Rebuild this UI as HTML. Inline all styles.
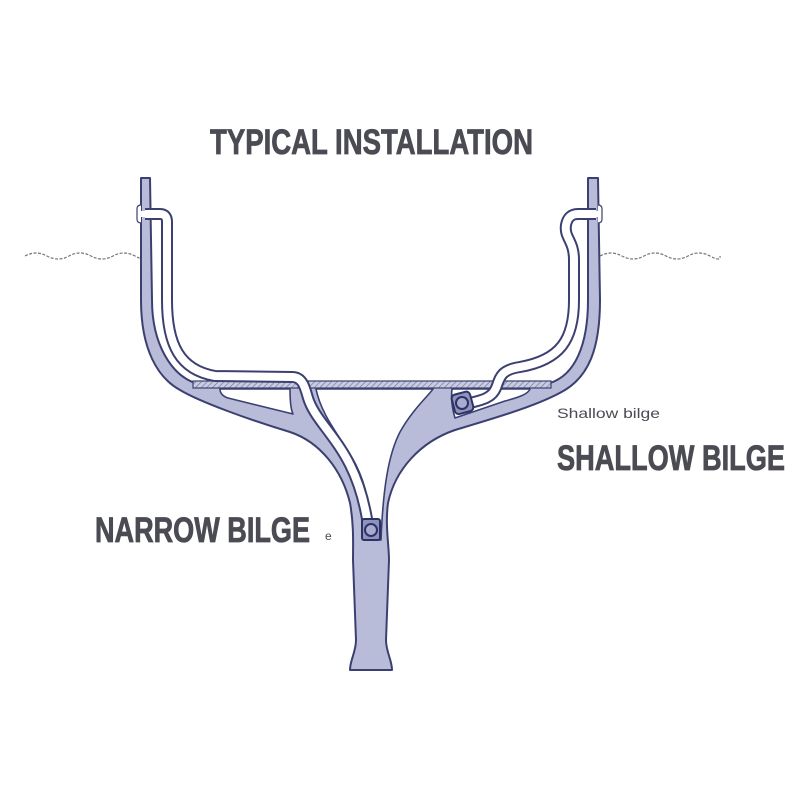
<!DOCTYPE html>
<html><head><meta charset="utf-8"><style>
html,body{margin:0;padding:0;background:#fff;width:800px;height:800px;overflow:hidden}
svg{display:block}
</style></head><body>
<svg width="800" height="800" viewBox="0 0 800 800" xmlns="http://www.w3.org/2000/svg">
<defs>
<pattern id="hatch" width="4" height="4" patternUnits="userSpaceOnUse" patternTransform="rotate(45)">
<rect width="4" height="4" fill="#c9cce0"/><line x1="0" y1="0" x2="0" y2="4" stroke="#6a6f98" stroke-width="1.2"/>
</pattern>
</defs>
<path d="M25,256 q11,-6 22,0 t22,0 t22,0 t22,0 t22,0 t10,0" fill="none" stroke="#777" stroke-width="1.2" stroke-dasharray="3,1.5"/>
<path d="M600,256 q11,-6 22,0 t22,0 t22,0 t22,0 t22,0 t10,0" fill="none" stroke="#777" stroke-width="1.2" stroke-dasharray="3,1.5"/>
<path d="M141,178 L141,300 C141,350 158,378 180,390 C200,402 250,420 290,432 C320,442 342,470 350,503 C354,525 353,545 353,560 L356,640 C356,652 350,660 350,670 L392,670 C392,660 386,652 386,640 L389,560 C389,545 385,525 388,503 C395,470 420,442 455,430 C495,418 540,405 565,390 C588,376 600,350 600,300 L598,178 L588,178 L588,300 C588,345 575,375 550,383 L195,383 C172,375 152,345 152,300 L150,178 Z" fill="#b9bcd9" stroke="#3b4070" stroke-width="2" stroke-linejoin="round"/>
<rect x="140" y="211" width="12" height="6" fill="#fff"/>
<rect x="587" y="211" width="12" height="6" fill="#fff"/>
<path d="M141,205 q-4,0 -4,4 v10 q0,4 4,4" fill="#fff" stroke="#3b4070" stroke-width="1.2"/>
<path d="M598,205 q4,0 4,4 v10 q0,4 -4,4" fill="#fff" stroke="#3b4070" stroke-width="1.2"/>
<path d="M220,389 L290,389 C290,400 291,410 293,414 L228,398 C222,396 220,393 220,389 Z" fill="#fff" stroke="#3b4070" stroke-width="1.6" stroke-linejoin="round"/>
<path d="M316,389 L433,389 C430,394 412,410 400,432 C388,455 383,490 381,540 L372,540 C370,505 366,485 356,465 C342,438 322,418 316,389 Z" fill="#fff" stroke="#3b4070" stroke-width="1.6" stroke-linejoin="round"/>
<path d="M452,389 L530,389 C528,394 520,397 505,401 L455,418 C452,408 451,398 452,389 Z" fill="#fff" stroke="#3b4070" stroke-width="1.6" stroke-linejoin="round"/>
<rect x="193" y="381" width="358" height="7" fill="url(#hatch)" stroke="#3b4070" stroke-width="1.2"/>
<g fill="none" stroke-linecap="butt" stroke-linejoin="round">
<path d="M145,214 L160,214 Q167,214 167,222 L167,300 C167,345 180,370 215,376 L292,377 C303,377 305,388 308,398 C314,418 335,435 350,465 C360,485 365,505 368,525" stroke="#3b4070" stroke-width="12"/>
<path d="M145,214 L160,214 Q167,214 167,222 L167,300 C167,345 180,370 215,376 L292,377 C303,377 305,388 308,398 C314,418 335,435 350,465 C360,485 365,505 368,525" stroke="#fff" stroke-width="8"/>
<path d="M596,214 L578,214 Q568,214 566,225 C564,238 574,240 574,260 L574,300 C574,340 560,360 520,367 C500,370 500,378 496,388 C492,398 482,400 470,403" stroke="#3b4070" stroke-width="12"/>
<path d="M596,214 L578,214 Q568,214 566,225 C564,238 574,240 574,260 L574,300 C574,340 560,360 520,367 C500,370 500,378 496,388 C492,398 482,400 470,403" stroke="#fff" stroke-width="8"/>
</g>
<g stroke="#2e3263" stroke-width="2">
<rect x="362" y="519" width="18" height="21" rx="2" fill="#8e93bd"/>
<circle cx="371" cy="530" r="6" fill="#a8acd0"/>
<rect x="453" y="393" width="19" height="20" rx="4" fill="#8e93bd" transform="rotate(-15 462 403)"/>
<circle cx="462" cy="403" r="6" fill="#a8acd0"/>
</g>
<g font-family="'Liberation Sans Narrow','Liberation Sans',sans-serif" font-weight="bold" fill="#4a4b53" stroke="#4a4b53" stroke-width="0.8">
<text x="210" y="154" font-size="35" textLength="323" lengthAdjust="spacingAndGlyphs">TYPICAL INSTALLATION</text>
<text x="95" y="542" font-size="35" textLength="215" lengthAdjust="spacingAndGlyphs">NARROW BILGE</text>
<text x="557" y="470" font-size="35" textLength="228" lengthAdjust="spacingAndGlyphs">SHALLOW BILGE</text>
</g>
<g font-family="'Liberation Sans',sans-serif" fill="#4a4b53">
<text x="557" y="418" font-size="14" textLength="103" lengthAdjust="spacingAndGlyphs">Shallow bilge</text>
<text x="325" y="540" font-size="12">e</text>
</g>
</svg>
</body></html>
